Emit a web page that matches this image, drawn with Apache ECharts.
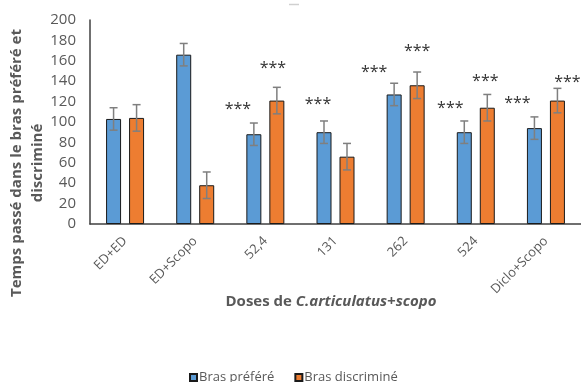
<!DOCTYPE html>
<html>
<head>
<meta charset="utf-8">
<script src="https://cdn.jsdelivr.net/npm/echarts@6/dist/echarts.min.js"></script>
<style>html,body{margin:0;padding:0;background:#fff}#c{width:581px;height:382px}</style>
</head>
<body>
<div id="c"></div>
<script>
// ---- data ----
const categories = ['ED+ED', 'ED+Scopo', '52,4', '131', '262', '524', 'Diclo+Scopo'];
const seriesNames = ['Bras préféré', 'Bras discriminé'];
const prefere = [103, 166, 88, 90, 127, 90, 94];
const prefereErr = [11, 11, 11, 11, 11, 11, 11];
const discrimine = [104, 38, 121, 66, 136, 114, 121];
const discrimineErr = [13, 13, 13, 13, 13, 13, 12];
const prefereStars = ['', '', '***', '***', '***', '***', '***'];
const discrimineStars = ['', '', '***', '', '***', '***', '***'];
const yTicks = [0, 20, 40, 60, 80, 100, 120, 140, 160, 180, 200];

// ---- style (annotation placement, px) ----
const prefereStarOff = [[0,0],[0,0],[-16,-29],[-6,-32],[-20,-26],[-14,-28],[-17,-29]];
const discrimineStarOff = [[0,0],[0,0],[-4,-36],[0,0],[0,-38],[-2,-30],[10,-22]];
const BAR_W = 15, GAP = 8;
const BLUE = '#5B9BD5', ORANGE = '#ED7D31', GREY = '#595959';
const FONT = 'Open Sans';
const STAR_BASE = 12;

function starData(vals, stars, offs) {
  return vals.map((v, i) => ({
    value: v,
    label: {
      show: stars[i] !== '',
      formatter: stars[i],
      offset: [offs[i][0], offs[i][1] + STAR_BASE]
    }
  }));
}

function errSeries(vals, errs, dir) {
  return {
    type: 'custom',
    silent: true,
    z: 5,
    data: vals.map((v, i) => [i, v, errs[i]]),
    renderItem: function (params, api) {
      const i = api.value(0), v = api.value(1), e = api.value(2);
      const hi = api.coord([i, v + e]);
      const lo = api.coord([i, v - e]);
      const cx = hi[0] + dir * (BAR_W + GAP) / 2;
      const st = { stroke: '#7f7f7f', lineWidth: 1.5 };
      return {
        type: 'group',
        children: [
          { type: 'line', shape: { x1: cx, y1: hi[1], x2: cx, y2: lo[1] }, style: st },
          { type: 'line', shape: { x1: cx - 4, y1: hi[1], x2: cx + 4, y2: hi[1] }, style: st },
          { type: 'line', shape: { x1: cx - 4, y1: lo[1], x2: cx + 4, y2: lo[1] }, style: st }
        ]
      };
    }
  };
}

const starLabel = {
  position: 'top',
  distance: 0,
  color: '#333333',
  fontSize: 16,
  fontFamily: FONT
};

const chart = echarts.init(document.getElementById('c'), null, { renderer: 'canvas' });
chart.setOption({
  animation: false,
  textStyle: { fontFamily: FONT },
  grid: { left: 90, top: 20, width: 495, height: 204, containLabel: false },
  legend: {
    data: seriesNames,
    left: 184,
    top: 366,
    itemWidth: 7,
    itemHeight: 7,
    itemGap: 20,
    icon: 'rect',
    textStyle: { color: GREY, fontSize: 13, fontFamily: FONT, padding: [0, 0, 0, -3] }
  },
  xAxis: {
    type: 'category',
    data: categories,
    axisLine: { show: true, lineStyle: { color: '#404040', width: 1.5 } },
    axisTick: { show: false },
    axisLabel: { rotate: 45, color: GREY, fontSize: 13, margin: 15, fontFamily: FONT, interval: 0 }
  },
  yAxis: {
    type: 'value',
    min: yTicks[0],
    max: yTicks[yTicks.length - 1],
    interval: yTicks[1] - yTicks[0],
    axisLine: { show: true, lineStyle: { color: '#404040', width: 1.5 } },
    axisTick: { show: false },
    splitLine: { show: false },
    axisLabel: { color: GREY, fontSize: 15, margin: 14, fontFamily: FONT }
  },
  series: [
    {
      name: seriesNames[0],
      type: 'bar',
      barWidth: BAR_W,
      barGap: (GAP / BAR_W * 100) + '%',
      itemStyle: { color: BLUE, borderColor: '#1a1a1a', borderWidth: 1 },
      label: starLabel,
      data: starData(prefere, prefereStars, prefereStarOff)
    },
    {
      name: seriesNames[1],
      type: 'bar',
      barWidth: BAR_W,
      itemStyle: { color: ORANGE, borderColor: '#1a1a1a', borderWidth: 1 },
      label: starLabel,
      data: starData(discrimine, discrimineStars, discrimineStarOff)
    },
    errSeries(prefere, prefereErr, -1),
    errSeries(discrimine, discrimineErr, 1)
  ],
  graphic: [
    {
      type: 'text',
      x: 27, y: 163,
      rotation: Math.PI / 2,
      style: {
        text: 'Temps passé dans le bras préféré et\ndiscriminé',
        align: 'center',
        verticalAlign: 'middle',
        fill: GREY,
        font: 'bold 15px "Open Sans"',
        lineHeight: 21
      }
    },
    {
      type: 'text',
      x: 331, y: 302,
      style: {
        rich: {
          n: { fontWeight: 'bold', fontSize: 15, fontFamily: FONT, fill: GREY },
          i: { fontWeight: 'bold', fontStyle: 'italic', fontSize: 15, fontFamily: FONT, fill: GREY }
        },
        text: '{n|Doses de }{i|C.articulatus+scopo}',
        align: 'center',
        verticalAlign: 'middle'
      }
    },
    {
      type: 'line',
      shape: { x1: 289, y1: 4.5, x2: 299, y2: 4.5 },
      style: { stroke: '#d0d0d0', lineWidth: 1.5 }
    }
  ]
});
</script>
</body>
</html>
